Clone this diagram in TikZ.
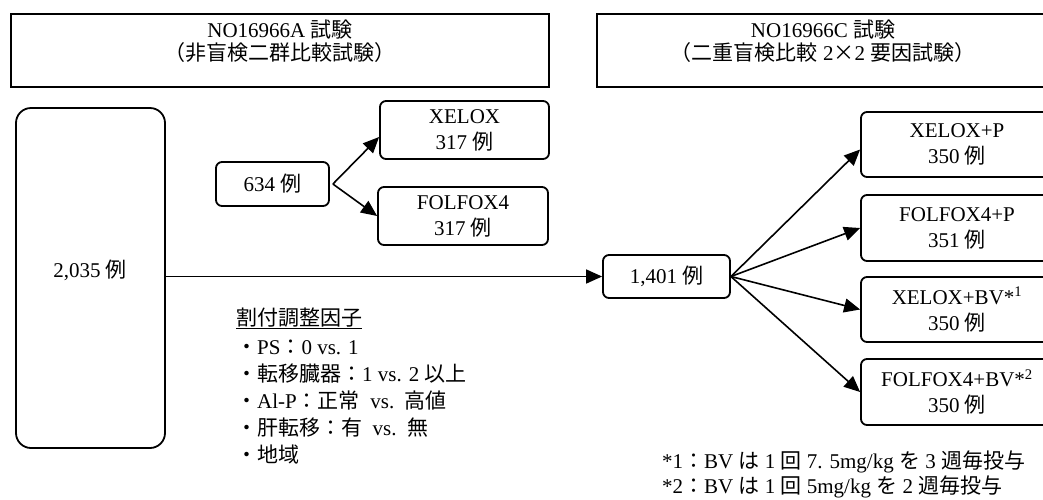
\documentclass[tikz,border=0pt]{standalone}
\usepackage{fontspec}
\setmainfont{Liberation Serif}
\newfontfamily\jp{Noto Sans CJK JP}
\usetikzlibrary{arrows.meta}
\begin{document}
\begin{tikzpicture}[x=1pt,y=-1pt,
  every node/.style={font=\fontsize{21}{26}\selectfont, inner sep=0pt},
  hdrbox/.style={draw, line width=2.2pt, minimum width=#1, minimum height=73pt},
  rbox/.style={draw, line width=1.8pt, rounded corners=6pt, align=center},
  arr/.style={line width=1.6pt, -{Triangle[length=16pt,width=14pt]}},
  txt/.style={anchor=base west}
]
\useasboundingbox (0,0) rectangle (1043,499);
% headers
\node[hdrbox=538pt] (hA) at (280,50.5) {};
\node[anchor=base] (hA1) at (280,37) {NO16966A {\jp 試験}};
\node[anchor=base] (hA2) at (280,60) {{\jp （非盲検二群比較試験）}};
\node[hdrbox=452pt] (hC) at (823,50.5) {};
\node[anchor=base] (hC1) at (823,37) {NO16966C {\jp 試験}};
\node[anchor=base] (hC2) at (823,60) {{\jp （二重盲検比較} 2{\jp ×}2 {\jp 要因試験）}};
% big box
\node[rbox, minimum width=149pt, minimum height=340pt, rounded corners=15pt] (all) at (90.5,278) {};
\node (allt) at (90,270) {2,035 {\jp 例}};
% study A
\node[rbox, minimum width=113pt, minimum height=44pt] (n634) at (272.5,184) {634 {\jp 例}};
\node[rbox, minimum width=169pt, minimum height=58pt] (xelox) at (464.5,130) {XELOX\\317 {\jp 例}};
\node[rbox, minimum width=170pt, minimum height=58pt] (folfox) at (463,216) {FOLFOX4\\317 {\jp 例}};
\coordinate (s634) at ([xshift=3pt]n634.east);
\draw[arr] (s634) -- ([yshift=-7pt]xelox.west);
\draw[arr] (s634) -- (folfox.west);
% study C
\node[rbox, minimum width=127pt, minimum height=43pt] (n1401) at (666.5,276.5) {1,401 {\jp 例}};
\node[rbox, minimum width=192pt, minimum height=65pt] (rA) at (957,144.5) {XELOX+P\\350 {\jp 例}};
\node[rbox, minimum width=192pt, minimum height=66pt] (rB) at (957,228) {FOLFOX4+P\\351 {\jp 例}};
\node[rbox, minimum width=192pt, minimum height=65pt] (rC) at (957,309.5) {XELOX+BV*\textsuperscript{1}\\350 {\jp 例}};
\node[rbox, minimum width=192pt, minimum height=66pt] (rD) at (957,392) {FOLFOX4+BV*\textsuperscript{2}\\350 {\jp 例}};
\draw[arr] (all.east |- n1401.west) -- (n1401.west);
\draw[arr] (n1401.east) -- ([yshift=-5pt]rA.west);
\draw[arr] (n1401.east) -- (rB.west);
\draw[arr] (n1401.east) -- (rC.west);
\draw[arr] (n1401.east) -- (rD.west);
% factors
\node[txt] (ft) at (236,325) {\underline{{\jp 割付調整因子}}};
\node[txt] (f1) at (236,354) {{\jp ・}PS{\jp ：}0 vs. 1};
\node[txt] (f2) at (236,381) {{\jp ・転移臓器：}1 vs. 2 {\jp 以上}};
\node[txt] (f3) at (236,408) {{\jp ・}Al-P{\jp ：正常}\ \ vs.\ \ {\jp 高値}};
\node[txt] (f4) at (236,435) {{\jp ・肝転移：有}\ \ vs.\ \ {\jp 無}};
\node[txt] (f5) at (236,462) {{\jp ・地域}};
% footnotes
\node[txt] (fn1) at (662,468) {*1{\jp ：}BV {\jp は} 1 {\jp 回} 7. 5mg/kg {\jp を} 3 {\jp 週毎投与}};
\node[txt] (fn2) at (662,493) {*2{\jp ：}BV {\jp は} 1 {\jp 回} 5mg/kg {\jp を} 2 {\jp 週毎投与}};
\end{tikzpicture}
\end{document}
